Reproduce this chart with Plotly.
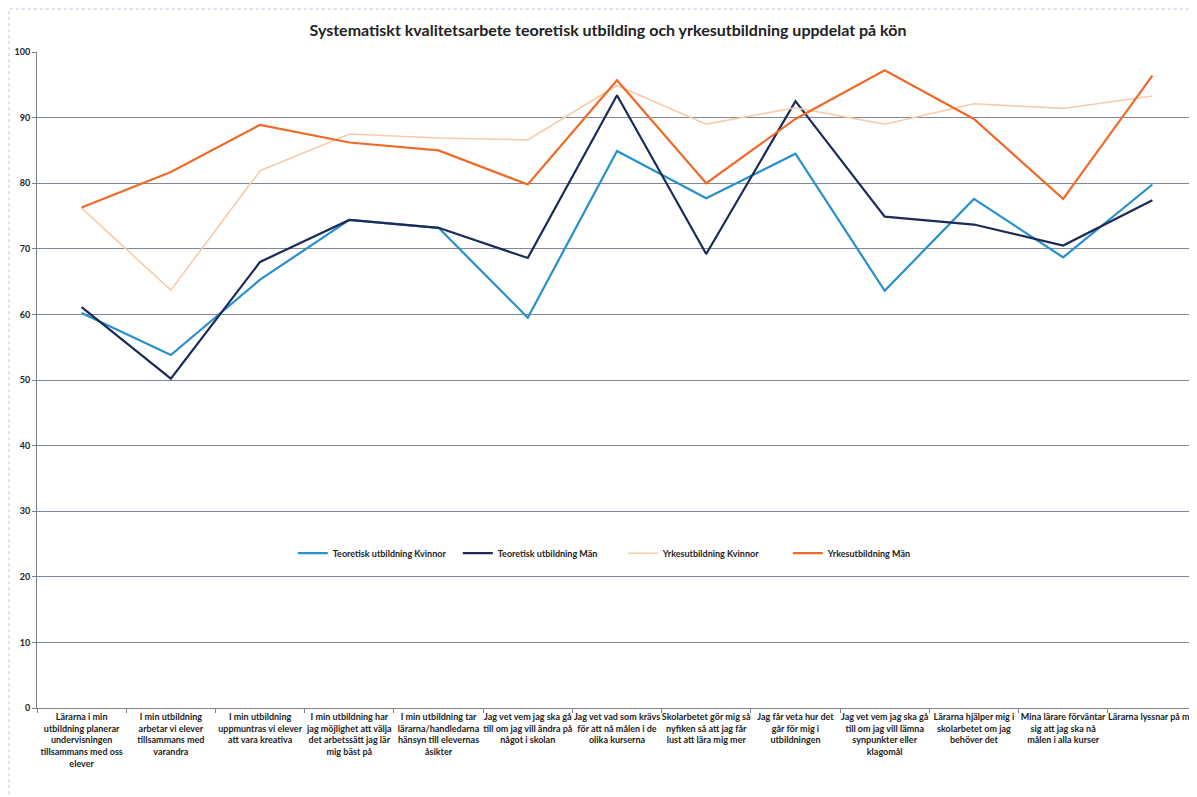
import plotly.graph_objects as go

categories = [
    "Lärarna i min<br>utbildning planerar<br>undervisningen<br>tillsammans med oss<br>elever",
    "I min utbildning<br>arbetar vi elever<br>tillsammans med<br>varandra",
    "I min utbildning<br>uppmuntras vi elever<br>att vara kreativa",
    "I min utbildning har<br>jag möjlighet att välja<br>det arbetssätt jag lär<br>mig bäst på",
    "I min utbildning tar<br>lärarna/handledarna<br>hänsyn till elevernas<br>åsikter",
    "Jag vet vem jag ska gå<br>till om jag vill ändra på<br>något i skolan",
    "Jag vet vad som krävs<br>för att nå målen i de<br>olika kurserna",
    "Skolarbetet gör mig så<br>nyfiken så att jag får<br>lust att lära mig mer",
    "Jag får veta hur det<br>går för mig i<br>utbildningen",
    "Jag vet vem jag ska gå<br>till om jag vill lämna<br>synpunkter eller<br>klagomål",
    "Lärarna hjälper mig i<br>skolarbetet om jag<br>behöver det",
    "Mina lärare förväntar<br>sig att jag ska nå<br>målen i alla kurser",
    "Lärarna lyssnar på mig",
]

teo_kvinnor = [60.2, 53.8, 65.3, 74.4, 73.2, 59.5, 84.9, 77.7, 84.5, 63.6, 77.6, 68.7, 79.8]
teo_man = [61.1, 50.2, 68.0, 74.4, 73.2, 68.6, 93.4, 69.2, 92.5, 74.9, 73.7, 70.5, 77.4]
yrk_kvinnor = [76.2, 63.7, 81.9, 87.5, 86.9, 86.6, 94.9, 89.0, 91.5, 89.0, 92.1, 91.4, 93.3]
yrk_man = [76.3, 81.7, 88.9, 86.2, 85.0, 79.8, 95.7, 80.0, 89.8, 97.2, 89.8, 77.6, 96.4]

series = [
    ("Teoretisk utbildning Kvinnor", teo_kvinnor, "#2690CC", 2.2),
    ("Teoretisk utbildning Män", teo_man, "#1B2A57", 2.2),
    ("Yrkesutbildning Kvinnor", yrk_kvinnor, "#F7CBA8", 1.6),
    ("Yrkesutbildning Män", yrk_man, "#EE6A28", 2.2),
]

fig = go.Figure()
for name, vals, color, w in series:
    fig.add_trace(go.Scatter(x=categories, y=vals, mode="lines", name=name,
                             line=dict(color=color, width=w)))

# page body has an 8px margin, so the figure is drawn 8px in from the top-left
fig.update_layout(
    width=1189, height=789,
    margin=dict(l=29, r=0, t=44, b=89),
    paper_bgcolor="white", plot_bgcolor="white",
    title=dict(text="Systematiskt kvalitetsarbete teoretisk utbilding och yrkesutbildning uppdelat på kön",
               x=600 / 1189, xref="container", xanchor="center", y=1 - 22 / 789, yanchor="middle",
               font=dict(family="Lato", size=16, color="#222222", weight="bold")),
    legend=dict(orientation="h", x=0.505, xanchor="center", y=0.236, yanchor="middle",
                font=dict(family="Lato", size=9, color="#222222", weight="bold"),
                bgcolor="rgba(0,0,0,0)", itemwidth=30, tracegroupgap=0,
                entrywidth=120),
    showlegend=True,
)

fig.update_xaxes(
    type="category", showgrid=False, showline=True, linecolor="#7a7f8c", linewidth=1,
    ticks="outside", ticklen=4, tickcolor="#7a7f8c", tickson="boundaries",
    tickfont=dict(family="Lato", size=9, color="#222222", weight="bold"),
    tickangle=0, range=[-0.5, 12.5],
)
fig.update_yaxes(
    range=[0, 100], dtick=10, showgrid=True, gridcolor="#7f879a", gridwidth=1,
    showline=True, linecolor="#7a7f8c", linewidth=1, ticks="outside", ticklen=4,
    tickcolor="#7a7f8c", zeroline=False,
    tickfont=dict(family="Lato", size=9, color="#222222", weight="bold"),
)

# faint outer chart-area border
fig.add_shape(type="rect", xref="paper", yref="paper",
              x0=-28 / 1160, x1=1.05, y0=-0.3, y1=(708 - 9) / 656,
              line=dict(color="#b8c4d6", width=1, dash="dot"), layer="below")

fig.write_html("out.html")
